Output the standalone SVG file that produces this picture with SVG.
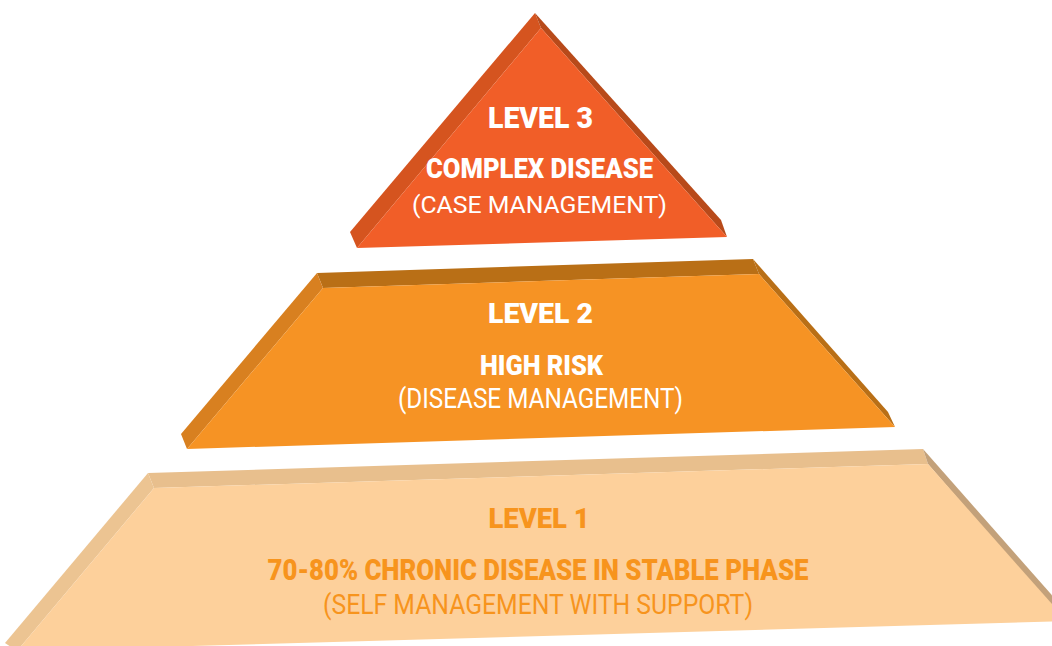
<svg xmlns="http://www.w3.org/2000/svg" width="1052" height="646" viewBox="0 0 1052 646">
<style>
.h{font-family:Roboto,"Liberation Sans",sans-serif;font-weight:900;text-anchor:middle}
.r{font-family:Roboto,"Liberation Sans",sans-serif;font-weight:400;text-anchor:middle}
.w{fill:#ffffff}
.o{fill:#F7941D}
</style>
<rect width="1052" height="646" fill="#ffffff"/>
<g id="level1">
<polygon points="148,473 923,449 928,464 154,488" fill="#E8BF8D"/>
<polygon points="148,473 154,488 17,651 5,643" fill="#ECC492"/>
<polygon points="923,449 1080,627 1080,640 928,464" fill="#C3A17A"/>
<polygon points="154,488 928,464 1067,621 17,651" fill="#FDD09B"/>
<text class="h o" x="539" y="528" font-size="28" textLength="101" lengthAdjust="spacingAndGlyphs">LEVEL 1</text>
<text class="h o" x="538" y="580" font-size="29" textLength="541" lengthAdjust="spacingAndGlyphs">70-80% CHRONIC DISEASE IN STABLE PHASE</text>
<text class="r o" x="538" y="614" font-size="27" textLength="430" lengthAdjust="spacingAndGlyphs">(SELF MANAGEMENT WITH SUPPORT)</text>
</g>
<g id="level2">
<polygon points="317,273 753,259 759,274 323,288" fill="#B96F16"/>
<polygon points="317,273 323,288 187,449 181,434" fill="#D88020"/>
<polygon points="753,259 888,412 895,427 759,274" fill="#B96F16"/>
<polygon points="323,288 759,274 895,427 187,449" fill="#F69324"/>
<text class="h w" x="540.5" y="323" font-size="28" textLength="105" lengthAdjust="spacingAndGlyphs">LEVEL 2</text>
<text class="h w" x="541.5" y="375" font-size="28" textLength="123" lengthAdjust="spacingAndGlyphs">HIGH RISK</text>
<text class="r w" x="540.5" y="408" font-size="28" textLength="285" lengthAdjust="spacingAndGlyphs">(DISEASE MANAGEMENT)</text>
</g>
<g id="level3">
<polygon points="535,13 541,28 357,248 350,232" fill="#D5541F"/>
<polygon points="535,13 721,220 727,237 541,28" fill="#B84A1A"/>
<polygon points="541,28 727,237 357,248" fill="#F15E28"/>
<text class="h w" x="540.5" y="128" font-size="29" textLength="105" lengthAdjust="spacingAndGlyphs">LEVEL 3</text>
<text class="h w" x="539.5" y="178" font-size="27" textLength="227" lengthAdjust="spacingAndGlyphs">COMPLEX DISEASE</text>
<text class="r w" x="539.5" y="213" font-size="24" textLength="255" lengthAdjust="spacingAndGlyphs">(CASE MANAGEMENT)</text>
</g>
</svg>
